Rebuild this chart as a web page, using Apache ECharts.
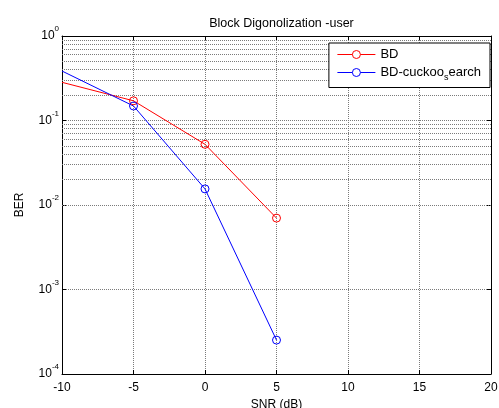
<!DOCTYPE html>
<html>
<head>
<meta charset="utf-8">
<script src="https://cdn.jsdelivr.net/npm/echarts@6/dist/echarts.min.js"></script>
<style>html,body{margin:0;padding:0;background:#fff;}#c{width:499px;height:408px;}</style>
</head>
<body>
<div id="c"></div>
<script>
var X_VALUES = [-10, -5, 0, 5];
var BD = [0.283, 0.171, 0.0523, 0.0070];
var BD_CUCKOO = [0.385, 0.1485, 0.0155, 0.000252];
var SERIES_NAMES = ['BD', 'BD-cuckoo_search'];
var TITLE = 'Block Digonolization -user';
var X_NAME = 'SNR (dB)';
var Y_NAME = 'BER';
var X_TICKS = [-10, -5, 0, 5, 10, 15, 20];
var Y_MINOR = [];
[1e-4, 1e-3, 1e-2, 1e-1].forEach(function (d) {
  [2, 3, 4, 5, 6, 7, 8, 9].forEach(function (m) { Y_MINOR.push(+(d * m).toPrecision(3)); });
});

var FONT = 'Liberation Sans, Arial, sans-serif';
var chart = echarts.init(document.getElementById('c'), null, { renderer: 'canvas' });

function mk(vals) {
  return X_VALUES.map(function (x, i) {
    var item = { value: [x, vals[i]] };
    if (i === 0) item.symbol = 'none';
    return item;
  });
}

var GRID_COLOR = '#7a7a7a';
var gridLine = { show: true, lineStyle: { color: GRID_COLOR, type: [1, 1], width: 1 } };

var option = {
  animation: false,
  backgroundColor: '#fff',
  textStyle: { fontFamily: FONT },
  title: {
    text: TITLE, left: 276.5, top: 12, textAlign: 'center',
    textStyle: { fontSize: 12.5, fontWeight: 'normal', color: '#000', fontFamily: FONT }
  },
  grid: { left: 62, right: 8, top: 36, bottom: 34, containLabel: false, outerBoundsMode: 'none' },
  legend: {
    orient: 'vertical', right: 9, top: 43,
    padding: [5, 9, 5, 8], itemWidth: 38, itemHeight: 10, itemGap: 5,
    borderColor: '#000', borderWidth: 1, backgroundColor: '#fff',
    itemStyle: { color: '#fff', borderWidth: 1 },
    lineStyle: { width: 1 },
    data: SERIES_NAMES,
    formatter: function (n) {
      if (n === 'BD-cuckoo_search') return '{t|BD-cuckoo}{s|s}{t|earch}';
      return '{t|' + n + '}';
    },
    textStyle: {
      color: '#000', fontFamily: FONT,
      rich: {
        t: { fontSize: 13, lineHeight: 20, color: '#000', fontFamily: FONT },
        s: { fontSize: 9, lineHeight: 9, verticalAlign: 'bottom', color: '#000', fontFamily: FONT }
      }
    }
  },
  xAxis: [{
    type: 'value', min: -10, max: 20, interval: 5,
    name: X_NAME, nameLocation: 'middle', nameGap: 22,
    nameTextStyle: { fontSize: 12, color: '#000', fontFamily: FONT },
    axisLine: { show: true, onZero: false, lineStyle: { color: '#000', width: 1 } },
    axisTick: { show: true, inside: true, length: 4, lineStyle: { color: '#000' } },
    axisLabel: { fontSize: 12, color: '#000', margin: 8, fontFamily: FONT,
      formatter: function (v) { return X_TICKS.indexOf(v) >= 0 ? String(v) : ''; } },
    splitLine: gridLine
  }, {
    type: 'value', min: -10, max: 20, interval: 5, position: 'top',
    axisLine: { show: true, onZero: false, lineStyle: { color: '#000', width: 1 } },
    axisTick: { show: true, inside: true, length: 4, lineStyle: { color: '#000' } },
    axisLabel: { show: false }, splitLine: { show: false }
  }],
  yAxis: [{
    type: 'log', logBase: 10, min: 1e-4, max: 1, interval: 1,
    name: Y_NAME, nameLocation: 'middle', nameGap: 36, nameRotate: 90,
    nameTextStyle: { fontSize: 12, color: '#000', fontFamily: FONT },
    axisLine: { show: true, onZero: false, lineStyle: { color: '#000', width: 1 } },
    axisTick: { show: true, inside: true, length: 4, lineStyle: { color: '#000' } },
    axisLabel: {
      margin: 3, color: '#000', fontFamily: FONT,
      formatter: function (v) { return '{b|10}{s|' + Math.round(Math.log10(v)) + '}'; },
      rich: {
        b: { fontSize: 12, lineHeight: 22, verticalAlign: 'middle', color: '#000', fontFamily: FONT },
        s: { fontSize: 8, lineHeight: 9, verticalAlign: 'top', color: '#000', fontFamily: FONT }
      }
    },
    splitLine: gridLine
  }, {
    type: 'log', logBase: 10, min: 1e-4, max: 1, interval: 1, position: 'right',
    axisLine: { show: true, onZero: false, lineStyle: { color: '#000', width: 1 } },
    axisTick: { show: true, inside: true, length: 4, lineStyle: { color: '#000' } },
    axisLabel: { show: false }, splitLine: { show: false }
  }],
  series: [{
    name: SERIES_NAMES[0], type: 'line', xAxisIndex: 0, yAxisIndex: 0,
    data: mk(BD), symbol: 'circle', symbolSize: 8,
    lineStyle: { color: '#ff0000', width: 1 },
    itemStyle: { color: 'rgba(255,255,255,0)', borderColor: '#ff0000', borderWidth: 1 },
    z: 5,
    markLine: {
      silent: true, symbol: 'none', label: { show: false }, animation: false,
      lineStyle: { color: GRID_COLOR, type: [1, 1], width: 1 },
      emphasis: { disabled: true },
      data: Y_MINOR.map(function (v) { return { yAxis: v }; }),
      z: 1
    }
  }, {
    name: SERIES_NAMES[1], type: 'line', xAxisIndex: 0, yAxisIndex: 0,
    data: mk(BD_CUCKOO), symbol: 'circle', symbolSize: 8,
    lineStyle: { color: '#0000ff', width: 1 },
    itemStyle: { color: 'rgba(255,255,255,0)', borderColor: '#0000ff', borderWidth: 1 },
    z: 5
  }]
};
chart.setOption(option);
</script>
</body>
</html>
